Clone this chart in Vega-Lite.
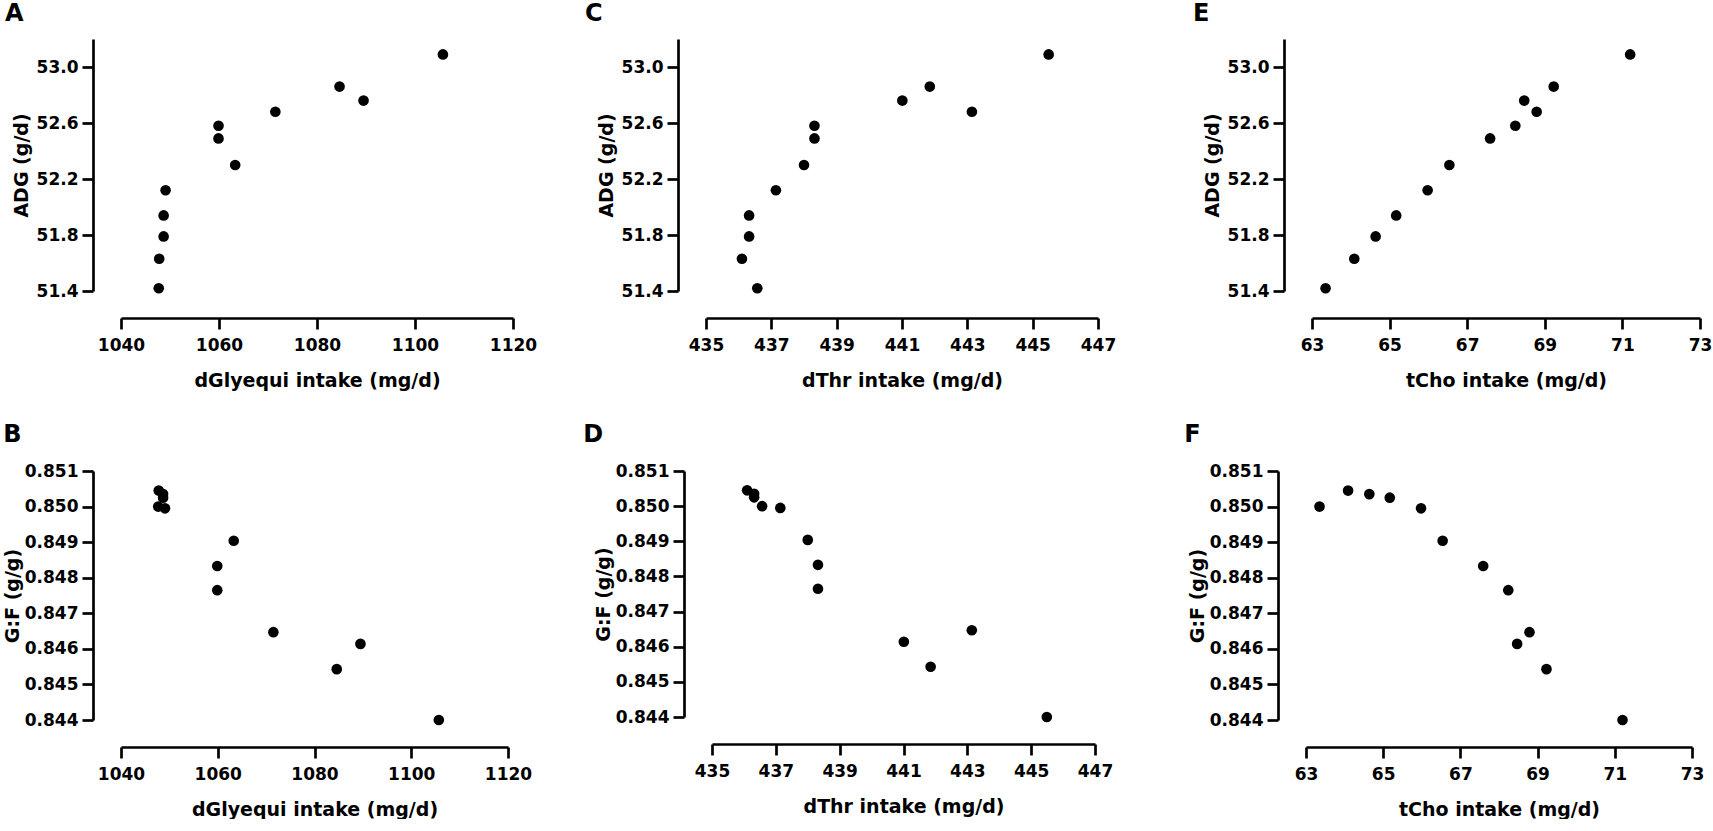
{
  "$schema": "https://vega.github.io/schema/vega-lite/v6.json",
  "padding": {"left": 3, "top": 2, "right": 0, "bottom": 0},
  "background": "white",
  "datasets": {
    "obs": [
      {"dGly": 1047.7, "dThr": 436.57, "tCho": 63.35, "ADG": 51.42, "GF": 0.85000},
      {"dGly": 1047.8, "dThr": 436.10, "tCho": 64.09, "ADG": 51.63, "GF": 0.85045},
      {"dGly": 1048.7, "dThr": 436.32, "tCho": 64.64, "ADG": 51.79, "GF": 0.85035},
      {"dGly": 1048.7, "dThr": 436.32, "tCho": 65.17, "ADG": 51.94, "GF": 0.85025},
      {"dGly": 1049.1, "dThr": 437.14, "tCho": 65.98, "ADG": 52.12, "GF": 0.84995},
      {"dGly": 1063.3, "dThr": 438.00, "tCho": 66.54, "ADG": 52.30, "GF": 0.84904},
      {"dGly": 1059.9, "dThr": 438.32, "tCho": 67.59, "ADG": 52.49, "GF": 0.84833},
      {"dGly": 1059.9, "dThr": 438.32, "tCho": 68.24, "ADG": 52.58, "GF": 0.84765},
      {"dGly": 1089.5, "dThr": 441.01, "tCho": 68.47, "ADG": 52.76, "GF": 0.84614},
      {"dGly": 1071.5, "dThr": 443.14, "tCho": 68.79, "ADG": 52.68, "GF": 0.84647},
      {"dGly": 1084.6, "dThr": 441.85, "tCho": 69.23, "ADG": 52.86, "GF": 0.84543},
      {"dGly": 1105.7, "dThr": 445.49, "tCho": 71.20, "ADG": 53.09, "GF": 0.84400}
    ]
  },
  "config": {
    "view": {"stroke": null},
    "font": "DejaVu Sans",
    "axis": {
      "grid": false,
      "domainColor": "#000",
      "domainWidth": 2.7,
      "tickColor": "#000",
      "tickWidth": 2.7,
      "tickSize": 11,
      "labelFont": "DejaVu Sans",
      "labelFontSize": 17,
      "labelFontWeight": "bold",
      "labelColor": "#000",
      "labelFlush": false,
      "labelOverlap": false,
      "titleFont": "DejaVu Sans",
      "titleFontSize": 19,
      "titleFontWeight": "bold",
      "titleColor": "#000"
    },
    "axisX": {"offset": 27, "labelPadding": 8, "titlePadding": 18, "format": "d"},
    "axisY": {"offset": 28, "labelPadding": 4, "titlePadding": 5},
    "title": {
      "font": "DejaVu Sans",
      "fontSize": 24,
      "fontWeight": "bold",
      "color": "#000",
      "anchor": "start",
      "frame": "bounds",
      "baseline": "alphabetic"
    }
  },
  "columns": 1,
  "align": "none",
  "spacing": 33,
  "concat": [
    {
      "spacing": 48,
      "hconcat": [
        {
          "width": 392, "height": 252,
          "title": {"text": "A", "offset": 13, "dx": -7},
          "data": {"name": "obs"},
          "mark": {"type": "circle", "size": 113, "color": "#000", "opacity": 1},
          "encoding": {
            "x": {"field": "dGly", "type": "quantitative", "scale": {"domain": [1040, 1120], "nice": false, "zero": false}, "axis": {"values": [1040, 1060, 1080, 1100, 1120], "title": "dGlyequi intake (mg/d)"}},
            "y": {"field": "ADG", "type": "quantitative", "scale": {"domain": [51.4, 53.2], "nice": false, "zero": false}, "axis": {"values": [51.4, 51.8, 52.2, 52.6, 53.0], "format": ".1f", "title": "ADG (g/d)"}}
          }
        },
        {
          "spacing": 77,
          "hconcat": [
            {
              "width": 392, "height": 252,
              "title": {"text": "C", "offset": 13, "dx": -12},
              "data": {"name": "obs"},
              "mark": {"type": "circle", "size": 113, "color": "#000", "opacity": 1},
              "encoding": {
                "x": {"field": "dThr", "type": "quantitative", "scale": {"domain": [435, 447], "nice": false, "zero": false}, "axis": {"values": [435, 437, 439, 441, 443, 445, 447], "title": "dThr intake (mg/d)"}},
                "y": {"field": "ADG", "type": "quantitative", "scale": {"domain": [51.4, 53.2], "nice": false, "zero": false}, "axis": {"values": [51.4, 51.8, 52.2, 52.6, 53.0], "format": ".1f", "title": "ADG (g/d)"}}
              }
            },
            {
              "width": 388, "height": 252,
              "title": {"text": "E", "offset": 13, "dx": -10},
              "data": {"name": "obs"},
              "mark": {"type": "circle", "size": 113, "color": "#000", "opacity": 1},
              "encoding": {
                "x": {"field": "tCho", "type": "quantitative", "scale": {"domain": [63, 73], "nice": false, "zero": false}, "axis": {"values": [63, 65, 67, 69, 71, 73], "title": "tCho intake (mg/d)"}},
                "y": {"field": "ADG", "type": "quantitative", "scale": {"domain": [51.4, 53.2], "nice": false, "zero": false}, "axis": {"values": [51.4, 51.8, 52.2, 52.6, 53.0], "format": ".1f", "title": "ADG (g/d)"}}
              }
            }
          ]
        }
      ]
    },
    {
      "spacing": 51,
      "hconcat": [
        {
          "width": 387, "height": 249,
          "title": {"text": "B", "offset": 15},
          "data": {"name": "obs"},
          "mark": {"type": "circle", "size": 113, "color": "#000", "opacity": 1},
          "encoding": {
            "x": {"field": "dGly", "type": "quantitative", "scale": {"domain": [1040, 1120], "nice": false, "zero": false}, "axis": {"values": [1040, 1060, 1080, 1100, 1120], "title": "dGlyequi intake (mg/d)"}},
            "y": {"field": "GF", "type": "quantitative", "scale": {"domain": [0.844, 0.851], "nice": false, "zero": false}, "axis": {"values": [0.844, 0.845, 0.846, 0.847, 0.848, 0.849, 0.85, 0.851], "format": ".3f", "title": "G:F (g/g)", "titlePadding": 2}}
          }
        },
        {
          "spacing": 71,
          "hconcat": [
            {
              "width": 383, "height": 246,
              "title": {"text": "D", "offset": 15, "dx": -11},
              "data": {"name": "obs"},
              "mark": {"type": "circle", "size": 113, "color": "#000", "opacity": 1},
              "encoding": {
                "x": {"field": "dThr", "type": "quantitative", "scale": {"domain": [435, 447], "nice": false, "zero": false}, "axis": {"values": [435, 437, 439, 441, 443, 445, 447], "title": "dThr intake (mg/d)"}},
                "y": {"field": "GF", "type": "quantitative", "scale": {"domain": [0.844, 0.851], "nice": false, "zero": false}, "axis": {"values": [0.844, 0.845, 0.846, 0.847, 0.848, 0.849, 0.85, 0.851], "format": ".3f", "title": "G:F (g/g)", "titlePadding": 2}}
              }
            },
            {
              "width": 386, "height": 249,
              "title": {"text": "F", "offset": 15, "dx": -4},
              "data": {"name": "obs"},
              "mark": {"type": "circle", "size": 113, "color": "#000", "opacity": 1},
              "encoding": {
                "x": {"field": "tCho", "type": "quantitative", "scale": {"domain": [63, 73], "nice": false, "zero": false}, "axis": {"values": [63, 65, 67, 69, 71, 73], "title": "tCho intake (mg/d)"}},
                "y": {"field": "GF", "type": "quantitative", "scale": {"domain": [0.844, 0.851], "nice": false, "zero": false}, "axis": {"values": [0.844, 0.845, 0.846, 0.847, 0.848, 0.849, 0.85, 0.851], "format": ".3f", "title": "G:F (g/g)", "titlePadding": 2}}
              }
            }
          ]
        }
      ]
    }
  ]
}
